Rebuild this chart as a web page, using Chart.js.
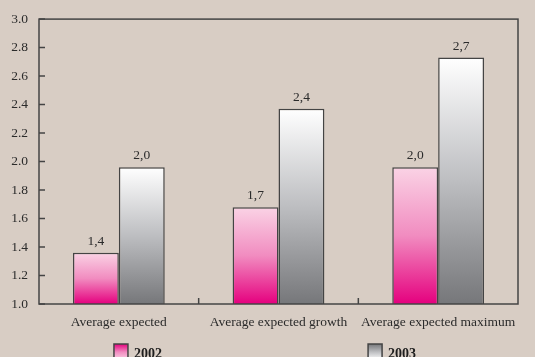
<!DOCTYPE html>
<html>
<head>
<meta charset="utf-8">
<script src="https://cdn.jsdelivr.net/npm/chart.js@4.4.1/dist/chart.umd.min.js"></script>
<style>
  html, body { margin: 0; padding: 0; background: #d8cdc4; }
  #wrap { width: 535px; height: 357px; }
</style>
</head>
<body>
<div id="wrap"><canvas id="c" width="535" height="357"></canvas></div>
<script>
// Expected averages by indicator, two survey years
const categories = ['Average expected', 'Average expected growth', 'Average expected maximum'];
const seriesNames = ['2002', '2003'];
const values2002 = [1.36, 1.68, 1.96];
const values2003 = [1.96, 2.37, 2.73];

// Value axis range
const yMin = 1.0;
const yMax = 3.0;
const yStep = 0.2;

const FONT = '"Liberation Serif", "Times New Roman", serif';
const INK = '#2b2b2b';
const FRAME = '#444444';

const pinkStops = [[0, '#fad3e5'], [0.5, '#f18cc0'], [1, '#e5007e']];
const greyStops = [[0, '#ffffff'], [0.5, '#bdbec1'], [1, '#76777a']];

// Per-bar vertical gradient: light at the top of the bar, dark at its base
function barGradient(stops) {
  return function (ctx) {
    const chart = ctx.chart;
    const y = chart.scales.y;
    if (!chart.chartArea || !y || ctx.type !== 'data') return stops[stops.length - 1][1];
    const top = y.getPixelForValue(ctx.raw);
    const bottom = y.getPixelForValue(y.min);
    if (!isFinite(top) || !isFinite(bottom) || top === bottom) return stops[stops.length - 1][1];
    const g = chart.ctx.createLinearGradient(0, top, 0, bottom);
    stops.forEach(s => g.addColorStop(s[0], s[1]));
    return g;
  };
}

function fmt(v) {
  return (Math.round(v * 10) / 10).toFixed(1).replace('.', ',');
}

// Frame, inward tick marks, value labels and the bottom key
const decorations = {
  id: 'decorations',
  afterDatasetsDraw(chart) {
    const ctx = chart.ctx;
    const area = chart.chartArea;
    const x = chart.scales.x;
    const y = chart.scales.y;
    ctx.save();

    // value labels above each bar
    ctx.fillStyle = INK;
    ctx.font = '13.5px ' + FONT;
    ctx.textAlign = 'center';
    ctx.textBaseline = 'alphabetic';
    chart.data.datasets.forEach((ds, di) => {
      chart.getDatasetMeta(di).data.forEach((bar, i) => {
        ctx.fillText(fmt(ds.data[i]), bar.x, bar.y - 8);
      });
    });

    // plot frame
    ctx.strokeStyle = FRAME;
    ctx.lineWidth = 1.5;
    ctx.strokeRect(area.left, area.top, area.right - area.left, area.bottom - area.top);

    // tick marks pointing into the plot
    ctx.beginPath();
    y.ticks.forEach(t => {
      const py = y.getPixelForValue(t.value);
      ctx.moveTo(area.left, py);
      ctx.lineTo(area.left + 6, py);
    });
    for (let i = 0; i < categories.length - 1; i++) {
      const px = x.getPixelForValue(i + 0.5);
      ctx.moveTo(px, area.bottom);
      ctx.lineTo(px, area.bottom - 6);
    }
    ctx.stroke();

    // key
    const keyX = [chart.width * 0.213, chart.width * 0.688];
    const keyStops = [pinkStops.slice().reverse(), greyStops.slice().reverse()];
    ctx.textAlign = 'left';
    ctx.font = 'bold 14px ' + FONT;
    seriesNames.forEach((name, i) => {
      const bx = keyX[i], by = 344, bw = 14, bh = 16;
      const g = ctx.createLinearGradient(0, by, 0, by + bh);
      keyStops[i].forEach(s => g.addColorStop(1 - s[0], s[1]));
      ctx.fillStyle = g;
      ctx.fillRect(bx, by, bw, bh);
      ctx.lineWidth = 1.5;
      ctx.strokeStyle = FRAME;
      ctx.strokeRect(bx, by, bw, bh);
      ctx.fillStyle = '#1e1e1e';
      ctx.fillText(name, bx + bw + 6, 357.5);
    });
    ctx.restore();
  }
};

new Chart(document.getElementById('c'), {
  type: 'bar',
  data: {
    labels: categories,
    datasets: [
      {
        label: seriesNames[0],
        data: values2002,
        backgroundColor: barGradient(pinkStops),
        borderColor: FRAME,
        borderWidth: 1.5,
        borderSkipped: false
      },
      {
        label: seriesNames[1],
        data: values2003,
        backgroundColor: barGradient(greyStops),
        borderColor: FRAME,
        borderWidth: 1.5,
        borderSkipped: false
      }
    ]
  },
  options: {
    responsive: false,
    animation: false,
    events: [],
    layout: { padding: { top: 17, right: 17, bottom: 0, left: 0 } },
    datasets: { bar: { categoryPercentage: 0.575, barPercentage: 1.0 } },
    plugins: {
      legend: { display: false },
      tooltip: { enabled: false }
    },
    scales: {
      x: {
        grid: { display: false, drawTicks: false },
        border: { display: false },
        ticks: {
          color: INK,
          font: { family: FONT, size: 13.5 },
          padding: 10,
          maxRotation: 0,
          autoSkip: false
        },
        afterFit(scale) { scale.height = 53; }
      },
      y: {
        min: yMin,
        max: yMax,
        grid: { display: false, drawTicks: false },
        border: { display: false },
        ticks: {
          stepSize: yStep,
          color: INK,
          font: { family: FONT, size: 13.5 },
          padding: 11,
          callback: v => Number(v).toFixed(1)
        },
        afterFit(scale) { scale.width = 39; }
      }
    }
  },
  plugins: [decorations]
});
</script>
</body>
</html>
